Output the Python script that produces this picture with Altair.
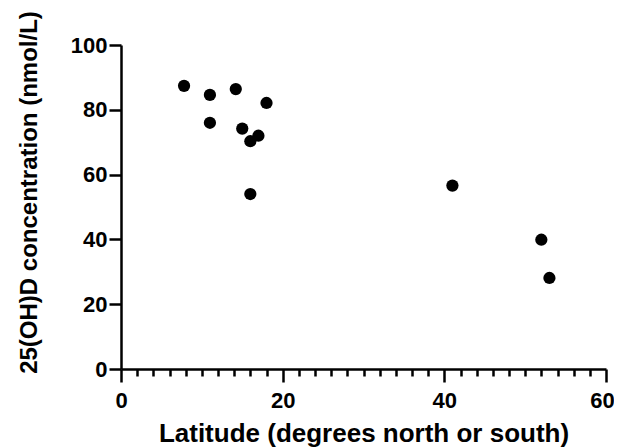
import altair as alt
import pandas as pd

latitude = [7.8, 11.0, 14.2, 18.0, 11.0, 15.0, 17.0, 16.0, 16.0, 41.0, 52.0, 53.0]
concentration = [87.4, 84.6, 86.4, 82.1, 76.0, 74.2, 72.0, 70.3, 54.0, 56.6, 39.9, 28.1]
x_ticks = list(range(0, 61, 2))
y_ticks = [0, 20, 40, 60, 80, 100]

df = pd.DataFrame({"lat": latitude, "conc": concentration})

FONT = "Liberation Sans"

chart = alt.Chart(df).mark_circle(size=150, color="black", opacity=1).encode(
    x=alt.X(
        "lat:Q",
        scale=alt.Scale(domain=[0, 60], nice=False, zero=False),
        axis=alt.Axis(
            values=x_ticks,
            labelExpr="datum.value % 20 === 0 ? datum.label : ''",
            tickSize={"condition": {"test": "datum.value % 20 === 0", "value": 13}, "value": 7},
            labelOffset={"condition": {"test": "datum.value === 60", "value": -4}, "value": 0},
            labelOverlap=False,
            labelFlush=False,
            labelPadding=8,
            labelFontSize=22,
            labelFont=FONT,
            labelFontWeight="bold",
            labelColor="black",
            domainColor="black",
            domainWidth=2.5,
            tickColor="black",
            tickWidth=2.5,
            grid=False,
            title="Latitude (degrees north or south)",
            titleFont=FONT,
            titleFontSize=26,
            titleFontWeight="bold",
            titleColor="black",
            titleBaseline="alphabetic",
            titleAnchor="middle",
            titleY=72,
        ),
    ),
    y=alt.Y(
        "conc:Q",
        scale=alt.Scale(domain=[0, 100], nice=False),
        axis=alt.Axis(
            values=y_ticks,
            tickSize=12,
            labelPadding=2,
            labelFontSize=22,
            labelFont=FONT,
            labelFontWeight="bold",
            labelColor="black",
            domainColor="black",
            domainWidth=2.5,
            tickColor="black",
            tickWidth=2.5,
            grid=False,
            title="25(OH)D concentration (nmol/L)",
            titleFont=FONT,
            titleFontSize=24,
            titleFontWeight="bold",
            titleColor="black",
            titleBaseline="middle",
            titleAngle=270,
            titleX=-92,
            titleY=147,
        ),
    ),
).properties(
    width=485,
    height=324,
    autosize=alt.AutoSizeParams(type="none"),
    padding={"left": 113, "top": 37, "right": 8, "bottom": 80},
).configure_view(stroke=None)

chart.save("out.html", embed_options={"renderer": "svg", "actions": False})
